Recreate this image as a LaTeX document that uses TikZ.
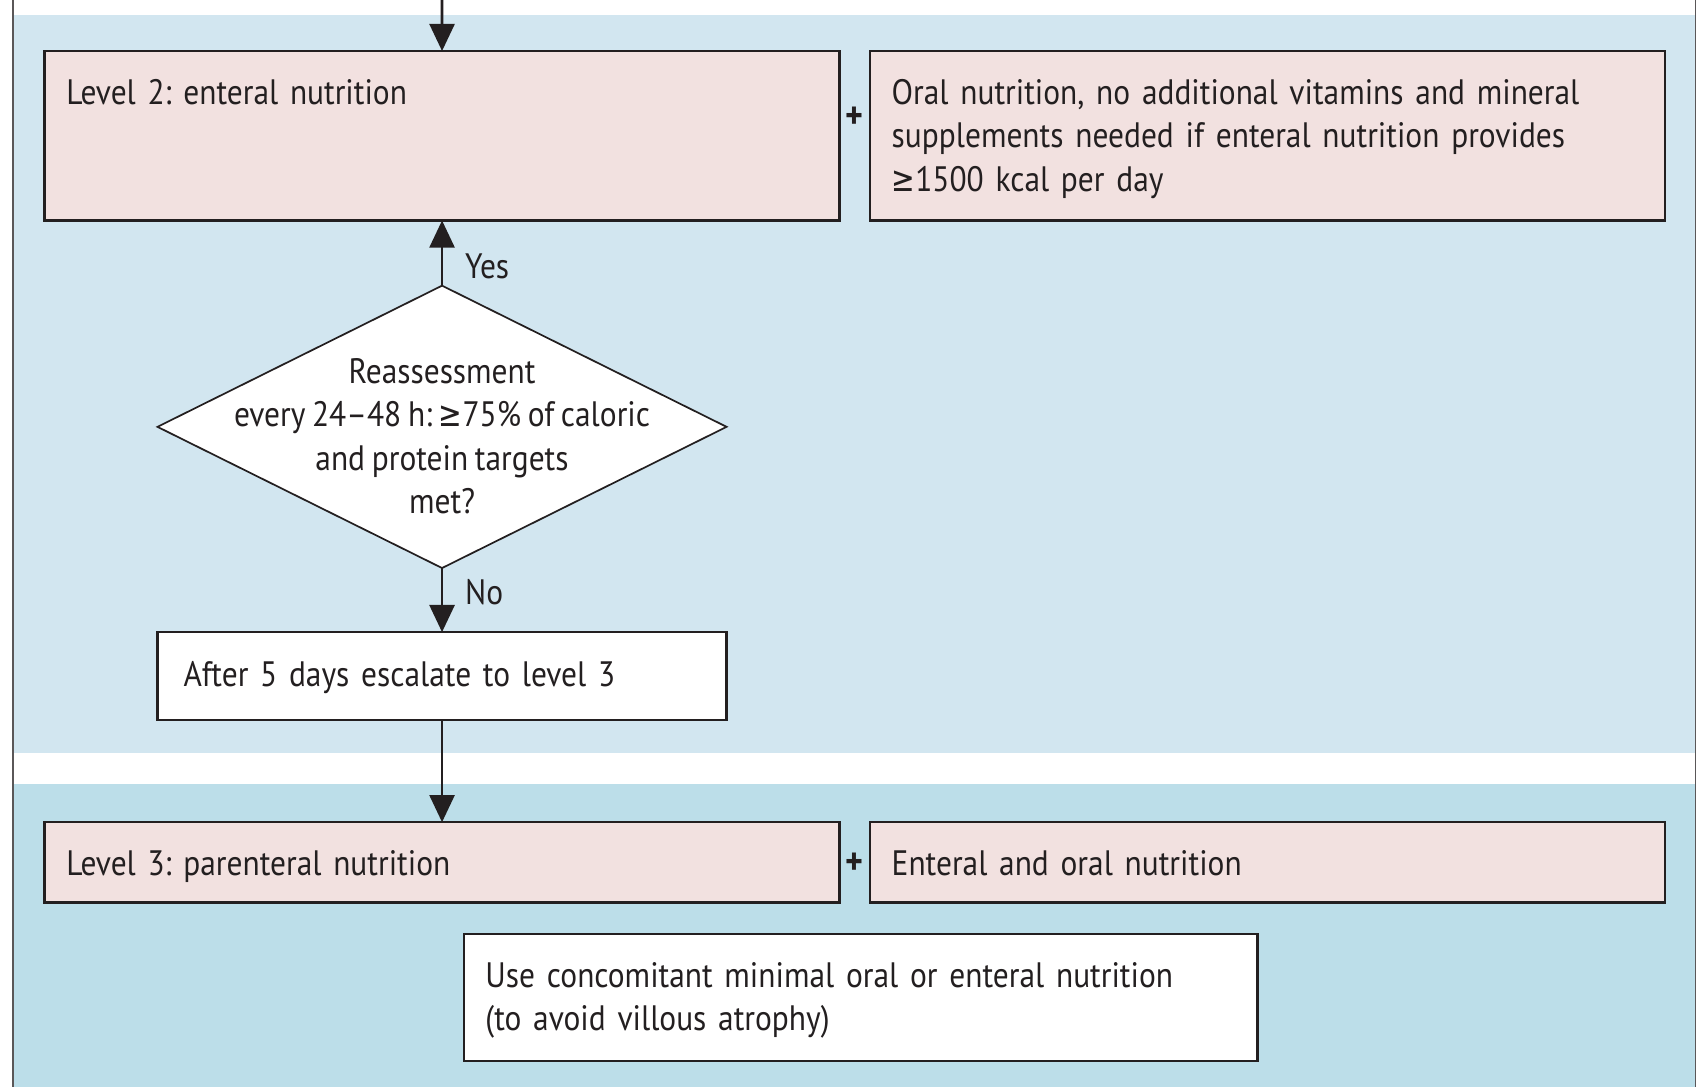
\documentclass[tikz,border=0pt]{standalone}
\usepackage{fontspec}
\setmainfont{PT Sans}[FakeStretch=0.89, WordSpace=0.8]
\newfontfamily\symfont{DejaVu Sans}[FakeStretch=0.8]
\newcommand{\gesym}{{\symfont\char"2265}}
\frenchspacing
\usetikzlibrary{shapes.geometric,arrows.meta,positioning}
\definecolor{ink}{RGB}{35,31,32}
\definecolor{bandtop}{RGB}{210,230,240}
\definecolor{bandlow}{RGB}{188,222,233}
\definecolor{rose}{RGB}{242,225,224}
\tikzstyle{txt} = [font=\fontsize{18.5}{22.8}\selectfont, text=ink]
\tikzstyle{box} = [txt, rectangle, draw=ink, line width=1.3pt, outer sep=0pt, inner xsep=0.4cm, inner ysep=0pt, text height=0.98cm, align=left]
\tikzstyle{pinkbox} = [box, fill=rose]
\tikzstyle{whitebox} = [box, fill=white]
\tikzstyle{decide} = [txt, diamond, draw=ink, line width=0.9pt, fill=white, aspect=2, minimum width=10.48cm, minimum height=5.2cm, inner sep=-1.5cm, outer sep=0pt, align=center]
\tikzstyle{arr} = [draw=ink, line width=1.4pt, -{Triangle[length=0.5cm,width=0.46cm]}]
\tikzstyle{plus} = [text=ink, font=\bfseries\fontsize{20}{22}\selectfont, inner sep=0pt]

\begin{document}
\begin{tikzpicture}
		\useasboundingbox (0,0) rectangle (31.36,-20.02);
		% background bands
		\fill[white] (0,0) rectangle (31.36,-20.02);
		\fill[bandtop] (0.24,-0.28) rectangle (31.22,-13.86);
		\fill[bandlow] (0.24,-14.44) rectangle (31.22,-20.02);
		\draw[ink!75, line width=0.6pt] (0.24,0) -- (0.24,-20.02);
		\draw[ink!75, line width=0.6pt] (31.22,0) -- (31.22,-20.02);
		
		\coordinate (in) at (8.14,0);
		\node[pinkbox, text width=13.84cm, text depth=2.14cm, anchor=north west](l2) at (0.82,-0.94){Level 2: enteral nutrition};
		\node[pinkbox, text width=13.84cm, text depth=2.14cm, right=0.56cm of l2](oral){Oral nutrition, no additional vitamins and mineral\\supplements needed if enteral nutrition provides\\\gesym1500 kcal per day};
		\node[plus](plusa) at (15.74,-2.16){+};
		\node[decide, below=1.2cm of l2](dia){\rule{0pt}{0.8cm}Reassessment\\every 24--48 h: \gesym75\% of caloric\\and protein targets\\met?};
		\node[whitebox, inner xsep=0.48cm, text width=9.52cm, text height=1.0cm, text depth=0.62cm, below=1.18cm of dia](esc){After 5 days escalate to level 3};
		\node[pinkbox, text width=13.84cm, text depth=0.5cm, below=1.88cm of esc](l3){Level 3: parenteral nutrition};
		\node[pinkbox, text width=13.84cm, text depth=0.5cm, right=0.56cm of l3](ent){Enteral and oral nutrition};
		\node[plus](plusb) at (15.74,-15.9){+};
		\node[whitebox, text width=13.82cm, text depth=1.36cm, anchor=north west](minimal) at (8.54,-17.2){Use concomitant minimal oral or enteral nutrition\\(to avoid villous atrophy)};
		
		\draw[arr] (in)--(l2.north);
		\draw[arr] (dia.north)--(l2.south) node[txt, pos=0.3, anchor=west, inner sep=0pt, xshift=0.4cm]{Yes};
		\draw[arr] (dia.south)--(esc.north) node[txt, pos=0.37, anchor=west, inner sep=0pt, xshift=0.4cm]{No};
		\draw[arr] (esc.south)--(l3.north);
		\end{tikzpicture}
\end{document}
